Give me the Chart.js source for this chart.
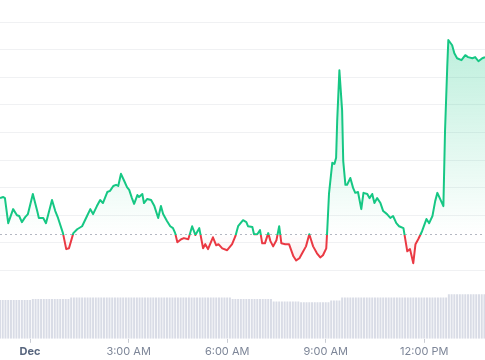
<!DOCTYPE html>
<html>
<head>
<meta charset="utf-8">
<script src="https://cdn.jsdelivr.net/npm/chart.js@4.4.1/dist/chart.umd.min.js"></script>
<style>
  html, body { margin: 0; padding: 0; background: #fff; }
  #wrap { width: 485px; height: 360px; }
</style>
</head>
<body>
<div id="wrap"><canvas id="canvas"></canvas></div>
<script>
// minutes from midnight (Dec 1) for each price sample
var priceTimes = [
  -55, -49, -46, -40, -31, -24, -20, -15, -9, -4,
  5, 13, 16, 24, 29, 40, 46, 51, 60, 66,
  71, 79, 86, 95, 104, 110, 115, 122, 128, 133,
  141, 146, 152, 157, 161, 166, 172, 177, 181, 186,
  190, 196, 199, 205, 208, 214, 221, 227, 234, 239,
  243, 250, 256, 261, 265, 269, 276, 281, 289, 296,
  302, 309, 316, 320, 325, 334, 340, 344, 351, 360,
  369, 375, 380, 389, 395, 398, 406, 409, 415, 420,
  424, 429, 435, 439, 444, 450, 455, 459, 466, 473,
  481, 486, 492, 499, 504, 510, 517, 524, 530, 535,
  541, 543, 546, 552, 556, 559, 561, 565, 570, 572,
  576, 579, 585, 590, 594, 599, 605, 609, 616, 620,
  625, 629, 634, 640, 645, 652, 658, 663, 669, 674,
  682, 689, 694, 700, 704, 709, 716, 724, 729, 735,
  740, 744, 749, 755, 758, 762, 764, 771, 775, 780,
  788, 795, 800, 808, 813, 819, 826, 831
];
var prices = [
  1.0262, 1.0266, 1.0262, 1.0171, 1.0222, 1.0200, 1.0197, 1.0175, 1.0193, 1.0204,
  1.0277, 1.0215, 1.0190, 1.0190, 1.0171, 1.0255, 1.0215, 1.0190, 1.0135, 1.0077,
  1.0080, 1.0135, 1.0149, 1.0160, 1.0197, 1.0222, 1.0204, 1.0233, 1.0255, 1.0244,
  1.0284, 1.0288, 1.0306, 1.0310, 1.0306, 1.0350, 1.0324, 1.0302, 1.0292, 1.0262,
  1.0241, 1.0273, 1.0266, 1.0277, 1.0244, 1.0259, 1.0255, 1.0233, 1.0190, 1.0233,
  1.0204, 1.0179, 1.0160, 1.0153, 1.0135, 1.0102, 1.0113, 1.0117, 1.0113, 1.0160,
  1.0128, 1.0153, 1.0080, 1.0095, 1.0077, 1.0120, 1.0091, 1.0095, 1.0080, 1.0073,
  1.0095, 1.0124, 1.0160, 1.0182, 1.0175, 1.0160, 1.0157, 1.0131, 1.0131, 1.0146,
  1.0098, 1.0098, 1.0135, 1.0106, 1.0087, 1.0109, 1.0160, 1.0098, 1.0095, 1.0095,
  1.0051, 1.0036, 1.0044, 1.0069, 1.0087, 1.0131, 1.0087, 1.0062, 1.0047, 1.0055,
  1.0080, 1.0153, 1.0277, 1.0390, 1.0386, 1.0408, 1.0543, 1.0725, 1.0579, 1.0397,
  1.0310, 1.0310, 1.0335, 1.0299, 1.0281, 1.0284, 1.0222, 1.0281, 1.0277, 1.0262,
  1.0277, 1.0244, 1.0262, 1.0244, 1.0215, 1.0204, 1.0190, 1.0197, 1.0171, 1.0160,
  1.0153, 1.0069, 1.0077, 1.0026, 1.0095, 1.0113, 1.0142, 1.0186, 1.0171, 1.0197,
  1.0251, 1.0281, 1.0259, 1.0233, 1.0507, 1.0736, 1.0835, 1.0816, 1.0787, 1.0769,
  1.0762, 1.0780, 1.0773, 1.0769, 1.0773, 1.0758, 1.0769, 1.0773
];
var baselinePrice = 1.0130;

// 24h volume, one bar every 5 minutes starting at volStart
var volStart = -55;
var volStep = 5;
var volumes = [
  38.7, 38.7, 38.7, 38.7, 38.7, 38.7, 38.7, 38.7, 38.7, 38.7, 38.7, 38.7,
  39.7, 39.7, 39.7, 39.7, 39.7, 39.7, 39.7, 39.7, 39.7, 39.7, 39.7, 39.7, 39.7, 39.7,
  41.0, 41.0, 41.0, 41.0, 41.0, 41.0, 41.0, 41.0, 41.0, 41.0,
  41.0, 41.0, 41.0, 41.0, 41.0, 41.0, 41.0, 41.0, 41.0, 41.0,
  41.0, 41.0, 41.0, 41.0, 41.0, 41.0, 41.0, 41.0, 41.0, 41.0,
  41.0, 41.0, 41.0, 41.0, 41.0, 41.0, 41.0, 41.0, 41.0, 41.0,
  41.0, 41.0, 41.0, 41.0, 41.0, 41.0, 41.0, 41.0, 41.0, 41.0,
  41.0, 41.0, 41.0, 41.0, 41.0, 41.0, 41.0, 41.0, 41.0,
  39.7, 39.7, 39.7, 39.7, 39.7, 39.7, 39.7, 39.7, 39.7, 39.7, 39.7, 39.7, 39.7, 39.7, 39.7,
  37.0, 37.0, 37.0, 37.0, 37.0, 37.0, 37.0, 37.0, 37.0, 37.0,
  36.4, 36.4, 36.4, 36.4, 36.4, 36.4, 36.4, 36.4, 36.4, 36.4, 36.4,
  38.0, 38.0, 38.0, 38.0,
  41.0, 41.0, 41.0, 41.0, 41.0, 41.0, 41.0, 41.0, 41.0, 41.0,
  41.0, 41.0, 41.0, 41.0, 41.0, 41.0, 41.0, 41.0, 41.0, 41.0,
  41.0, 41.0, 41.0, 41.0, 41.0, 41.0, 41.0, 41.0, 41.0, 41.0,
  41.0, 41.0, 41.0, 41.0, 41.0, 41.0, 41.0, 41.0, 41.0,
  44.3, 44.3, 44.3, 44.3, 44.3, 44.3, 44.3, 44.3, 44.3, 44.3, 44.3, 44.3, 44.3, 44.3
];

var tickValues = [0, 180, 360, 540, 720];
var tickLabels = ['Dec', '3:00 AM', '6:00 AM', '9:00 AM', '12:00 PM'];

var GREEN = '#16c784';
var RED = '#ea3943';

function baselineFrac(chart) {
  var a = chart.chartArea;
  var yb = chart.scales.y.getPixelForValue(baselinePrice);
  return Math.max(0, Math.min(1, (yb - a.top) / (a.bottom - a.top)));
}

function lineColor(context) {
  var chart = context.chart;
  if (!chart.chartArea) return GREEN;
  var a = chart.chartArea;
  var f = baselineFrac(chart);
  var g = chart.ctx.createLinearGradient(0, a.top, 0, a.bottom);
  g.addColorStop(0, GREEN);
  g.addColorStop(f, GREEN);
  g.addColorStop(f, RED);
  g.addColorStop(1, RED);
  return g;
}

function areaColor(context) {
  var chart = context.chart;
  if (!chart.chartArea) return 'rgba(22,199,132,0.1)';
  var a = chart.chartArea;
  var f = baselineFrac(chart);
  var g = chart.ctx.createLinearGradient(0, a.top, 0, a.bottom);
  g.addColorStop(0, 'rgba(22,199,132,0.34)');
  g.addColorStop(f, 'rgba(22,199,132,0.0)');
  g.addColorStop(f, 'rgba(234,57,67,0.0)');
  g.addColorStop(Math.min(1, f + 0.12), 'rgba(234,57,67,0.14)');
  g.addColorStop(1, 'rgba(234,57,67,0.14)');
  return g;
}

var priceData = priceTimes.map(function(t, i) { return {x: t, y: prices[i]}; });
var volumeData = volumes.map(function(v, i) { return {x: volStart + i * volStep, y: v}; });
var tMin = priceTimes[0];
var tMax = priceTimes[priceTimes.length - 1];

window.onload = function() {
  var ctx = document.getElementById('canvas').getContext('2d');
  window.myChart = new Chart(ctx, {
    data: {
      datasets: [{
        type: 'line',
        label: 'Price',
        data: priceData,
        yAxisID: 'y',
        borderColor: lineColor,
        backgroundColor: areaColor,
        borderWidth: 2,
        borderJoinStyle: 'round',
        pointRadius: 0,
        tension: 0,
        fill: {value: baselinePrice},
        order: 0
      }, {
        type: 'line',
        label: 'Open',
        data: [{x: tMin, y: baselinePrice}, {x: tMax, y: baselinePrice}],
        yAxisID: 'y',
        borderColor: '#b4b8c2',
        borderWidth: 1,
        borderDash: [2, 3],
        pointRadius: 0,
        fill: false,
        order: 1
      }, {
        type: 'bar',
        label: 'Volume',
        data: volumeData,
        yAxisID: 'yv',
        backgroundColor: '#d9dce6',
        barPercentage: 1,
        categoryPercentage: 0.72,
        order: 2
      }]
    },
    options: {
      responsive: true,
      maintainAspectRatio: false,
      animation: false,
      layout: { padding: 0 },
      plugins: {
        legend: { display: false },
        tooltip: { enabled: false }
      },
      scales: {
        x: {
          type: 'linear',
          offset: false,
          min: tMin,
          max: tMax,
          afterBuildTicks: function(scale) {
            scale.ticks = tickValues.map(function(v) { return {value: v}; });
          },
          ticks: {
            autoSkip: false,
            maxRotation: 0,
            padding: 2,
            callback: function(v) { return tickLabels[tickValues.indexOf(v)]; },
            color: function(c) { return c.tick && c.tick.value === 0 ? '#58667e' : '#7d8698'; },
            font: function(c) {
              return { family: 'Inter', size: 11, weight: (c.tick && c.tick.value === 0) ? 'bold' : 'normal' };
            }
          },
          grid: { offset: false, drawOnChartArea: false, drawTicks: true, tickLength: 4, color: '#c9ccd3' },
          border: { display: false }
        },
        y: {
          min: 0.9752,
          max: 1.098,
          afterFit: function(scale) { scale.width = 0; },
          ticks: { display: false, stepSize: 0.01, includeBounds: false },
          grid: {
            drawTicks: false,
            tickLength: 0,
            color: function(c) { return c.tick && c.tick.value < 0.995 ? 'rgba(0,0,0,0)' : '#f0f1f3'; }
          },
          border: { display: false, width: 0 }
        },
        yv: {
          display: false,
          min: 0,
          max: 337
        }
      }
    }
  });
};
</script>
</body>
</html>
